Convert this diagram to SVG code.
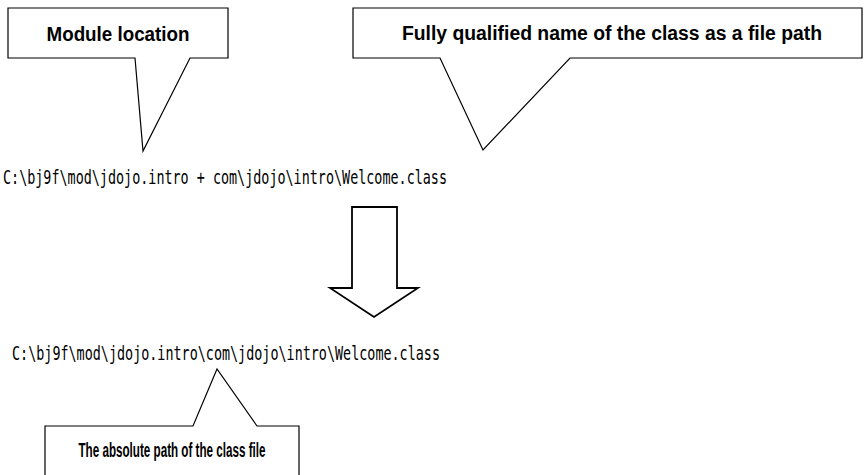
<svg xmlns="http://www.w3.org/2000/svg" width="866" height="475" viewBox="0 0 866 475">
<style>
.call{fill:#fff;stroke:#000;stroke-width:1.2;stroke-linejoin:miter}
.lbl{font-family:"Liberation Sans Narrow","Liberation Sans",Arial,sans-serif;font-weight:bold;font-size:20px;fill:#000;text-anchor:middle}
.code{font-family:"DejaVu Sans Mono",monospace;font-size:19.5px;fill:#000}
.arrow{fill:#fff;stroke:#000;stroke-width:1.8;stroke-linejoin:miter}
</style>
<rect width="866" height="475" fill="#fff"/>
<g id="callout-module">
<path class="call" d="M8,8 H228 V58 H190 L143,151 L135,58 H8 Z"/>
<text class="lbl" x="118" y="41" textLength="143" lengthAdjust="spacingAndGlyphs">Module location</text>
</g>
<g id="callout-fqn">
<path class="call" d="M353,8 H862 V58 H570 L483,150 L440,58 H353 Z"/>
<text class="lbl" x="612" y="40" textLength="420" lengthAdjust="spacingAndGlyphs">Fully qualified name of the class as a file path</text>
</g>
<g id="line1">
<text class="code" x="3" y="184" textLength="444" lengthAdjust="spacingAndGlyphs">C:\bj9f\mod\jdojo.intro + com\jdojo\intro\Welcome.class</text>
</g>
<g id="connectors">
<path class="arrow" d="M352,207 H397 V288 H418 L374,317 L330,288 H352 Z"/>
</g>
<g id="line2">
<text class="code" x="12" y="360" textLength="428" lengthAdjust="spacingAndGlyphs">C:\bj9f\mod\jdojo.intro\com\jdojo\intro\Welcome.class</text>
</g>
<g id="callout-absolute">
<path class="call" d="M45,480 V426 H193 L217,369 L257,426 H299 V480 Z"/>
<text class="lbl" x="172" y="457" textLength="187" lengthAdjust="spacingAndGlyphs">The absolute path of the class file</text>
</g>
</svg>
